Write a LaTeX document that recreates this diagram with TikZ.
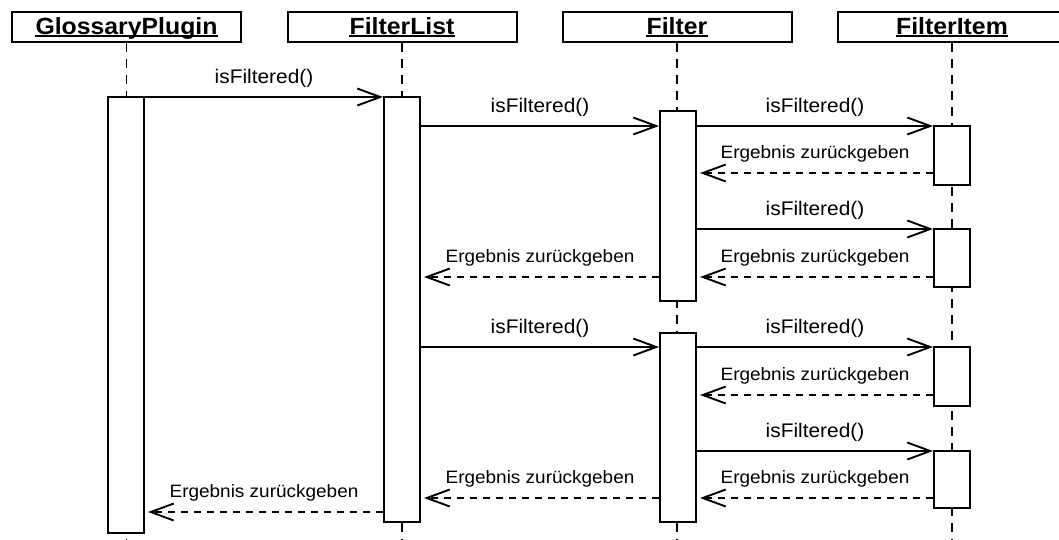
\documentclass[tikz,border=0pt]{standalone}
\usepackage{fontspec}
\setmainfont{Liberation Sans}[FakeStretch=1.06]
\usetikzlibrary{arrows.meta}
\begin{document}
\begin{tikzpicture}[x=1pt,y=-1pt,
  head/.style={draw, line width=2pt, minimum width=229pt, minimum height=30pt, inner sep=0pt},
  htext/.style={inner sep=0pt, anchor=base, font=\fontsize{23.4}{27}\selectfont\bfseries},
  uline/.style={line width=1.9pt},
  life/.style={line width=1.7pt, dash pattern=on 9pt off 7pt},
  act/.style={draw, fill=white, line width=2pt, minimum width=36pt, inner sep=0pt},
  call/.style={line width=1.9pt, -{Straight Barb[length=23pt,width=17pt]}},
  ret/.style={call, dash pattern=on 7.5pt off 5.5pt, shorten >=3pt},
  clbl/.style={anchor=base, inner sep=0pt, yshift=14pt, font=\fontsize{19.7}{23}\selectfont},
  rlbl/.style={anchor=base, inner sep=0pt, yshift=15pt, font=\fontsize{17.9}{21}\selectfont}
]
\useasboundingbox (0,0) rectangle (1059,539);
\clip (0,0) rectangle (1059,539);

% object heads
\node[head] (gpH) at (126.5,27) {};
\node[head] (flH) at (402,27) {};
\node[head] (fH)  at (677,27) {};
\node[head] (fiH) at (952,27) {};
\node[htext] (gpT) at (126.5,34) {GlossaryPlugin};
\node[htext] (flT) at (402,34) {FilterList};
\node[htext] (fT)  at (677,34) {Filter};
\node[htext] (fiT) at (952,34) {FilterItem};
\foreach \t in {gpT,flT,fT,fiT}
  \draw[uline] ([yshift=-2.3pt]\t.base west) -- ([yshift=-2.3pt]\t.base east);

% lifelines
\coordinate (bottom) at (0,545);
\draw[life] (gpH.south) -- (gpH.south |- bottom);
\draw[life] (flH.south) -- (flH.south |- bottom);
\draw[life] (fH.south)  -- (fH.south |- bottom);
\draw[life] (fiH.south) -- (fiH.south |- bottom);

% activations
\node[act, minimum height=436pt] (gpA) at (126,315) {};
\node[act, minimum height=425pt] (flA) at (402,309.5) {};
\node[act, minimum height=190pt] (fA1) at (678,206) {};
\node[act, minimum height=189pt] (fA2) at (678,427.5) {};
\node[act, minimum height=59pt] (fiA1) at (952,155.5) {};
\node[act, minimum height=58pt] (fiA2) at (952,258) {};
\node[act, minimum height=59pt] (fiA3) at (952,376.5) {};
\node[act, minimum height=57pt] (fiA4) at (952,479.5) {};

% message rows
\coordinate (m1) at (0,97);
\coordinate (m2) at (0,126);
\coordinate (r4) at (0,173);
\coordinate (m5) at (0,229);
\coordinate (r6) at (0,277);
\coordinate (m8) at (0,347);
\coordinate (r10) at (0,395);
\coordinate (m11) at (0,451);
\coordinate (r12) at (0,498);
\coordinate (r14) at (0,512);

% messages
\draw[call] (gpA.east |- m1) -- node[clbl] {isFiltered()} (flA.west |- m1);
\draw[call] (flA.east |- m2) -- node[clbl] {isFiltered()} (fA1.west |- m2);
\draw[call] (fA1.east |- m2) -- node[clbl] {isFiltered()} (fiA1.west |- m2);
\draw[ret] (fiA1.west |- r4) -- node[rlbl] {Ergebnis zurückgeben} (fA1.east |- r4);
\draw[call] (fA1.east |- m5) -- node[clbl] {isFiltered()} (fiA2.west |- m5);
\draw[ret] (fiA2.west |- r6) -- node[rlbl] {Ergebnis zurückgeben} (fA1.east |- r6);
\draw[ret] (fA1.west |- r6) -- node[rlbl] {Ergebnis zurückgeben} (flA.east |- r6);

\draw[call] (flA.east |- m8) -- node[clbl] {isFiltered()} (fA2.west |- m8);
\draw[call] (fA2.east |- m8) -- node[clbl] {isFiltered()} (fiA3.west |- m8);
\draw[ret] (fiA3.west |- r10) -- node[rlbl] {Ergebnis zurückgeben} (fA2.east |- r10);
\draw[call] (fA2.east |- m11) -- node[clbl] {isFiltered()} (fiA4.west |- m11);
\draw[ret] (fiA4.west |- r12) -- node[rlbl] {Ergebnis zurückgeben} (fA2.east |- r12);
\draw[ret] (fA2.west |- r12) -- node[rlbl] {Ergebnis zurückgeben} (flA.east |- r12);
\draw[ret] (flA.west |- r14) -- node[rlbl] {Ergebnis zurückgeben} (gpA.east |- r14);
\end{tikzpicture}
\end{document}
